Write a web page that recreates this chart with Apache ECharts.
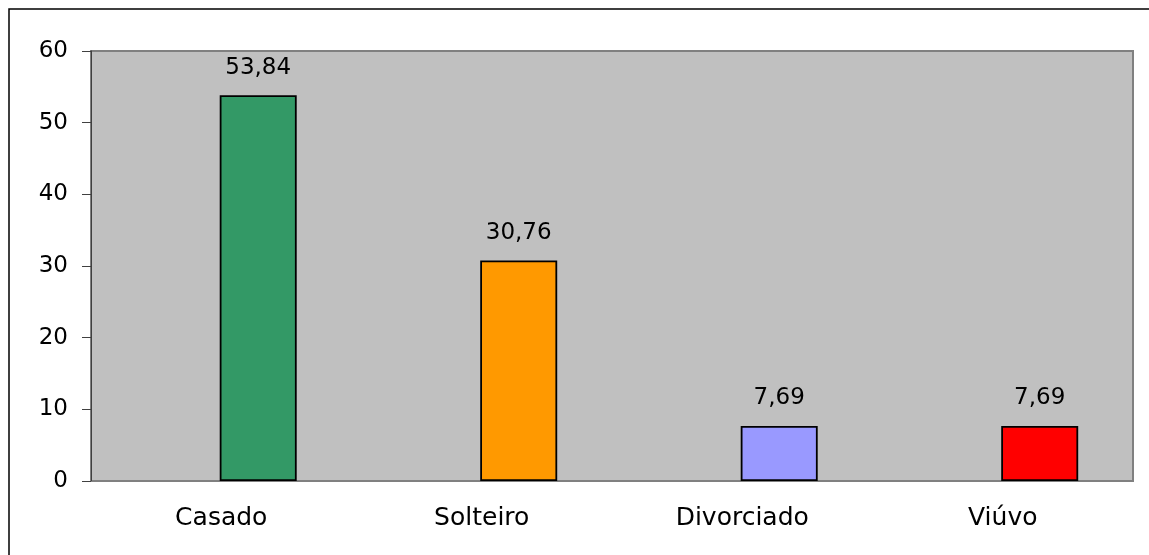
<!DOCTYPE html>
<html>
<head>
<meta charset="utf-8">
<script src="https://cdn.jsdelivr.net/npm/echarts@6/dist/echarts.min.js"></script>
<style>html,body{margin:0;padding:0;background:#fff;}#c{width:1149px;height:555px;}</style>
</head>
<body>
<div id="c"></div>
<script>
var categories = ['Casado', 'Solteiro', 'Divorciado', 'Viúvo'];
var values = [53.84, 30.76, 7.69, 7.69];
var barColors = ['#339966', '#FF9900', '#9999FF', '#FF0000'];
var yTicks = [0, 10, 20, 30, 40, 50, 60];

var chart = echarts.init(document.getElementById('c'));
var font = 'DejaVu Sans, sans-serif';
chart.setOption({
  animation: false,
  backgroundColor: '#ffffff',
  graphic: [{
    type: 'rect', shape: {x: 9, y: 9, width: 1300, height: 700},
    style: {fill: 'none', stroke: '#000', lineWidth: 1.5}, z: 100
  }],
  grid: {
    left: 91, top: 51, right: 16, bottom: 74,
    show: true, backgroundColor: '#c0c0c0', borderColor: '#808080', borderWidth: 2
  },
  xAxis: {
    type: 'category', data: categories,
    axisLine: {lineStyle: {color: '#808080', width: 1}},
    axisTick: {length: 7, lineStyle: {color: '#404040'}},
    axisLabel: {color: '#000', fontSize: 25, fontFamily: font, margin: 25}
  },
  yAxis: {
    type: 'value', min: yTicks[0], max: yTicks[yTicks.length - 1], interval: 10,
    axisLine: {show: true, lineStyle: {color: '#404040', width: 1}},
    axisTick: {show: true, length: 9, lineStyle: {color: '#404040'}},
    splitLine: {show: false},
    axisLabel: {color: '#000', fontSize: 23, fontFamily: font, margin: 23}
  },
  series: [{
    type: 'bar', data: values.map(function(){ return '-'; }), barWidth: 77, barGap: '-4%'
  }, {
    type: 'bar', barWidth: 77, barGap: '-4%',
    data: values.map(function(v, i){
      return {value: v, itemStyle: {color: barColors[i], borderColor: '#000', borderWidth: 1.8}};
    }),
    label: {
      show: true, position: 'top', distance: 16, color: '#000', fontSize: 23, fontFamily: font,
      formatter: function(p){ return p.value.toFixed(2).replace('.', ','); }
    }
  }]
});
</script>
</body>
</html>
